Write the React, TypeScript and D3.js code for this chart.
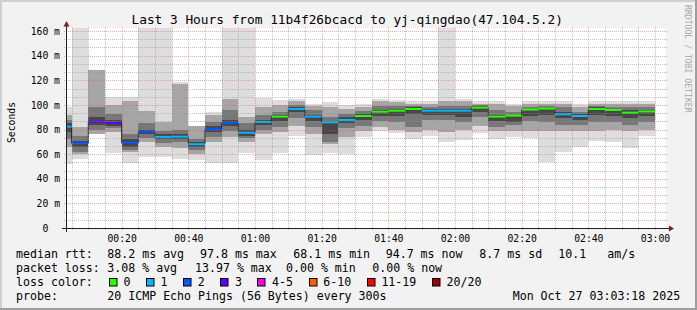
import React from "react";
import * as d3 from "d3";

// ---------- data ----------
const title = "Last 3 Hours from 11b4f26bcacd to yj-qingdao(47.104.5.2)";
const startTime = new Date(2025, 9, 27, 0, 3, 18);
const endTime = new Date(2025, 9, 27, 3, 3, 18);
const dataEnd = new Date(2025, 9, 27, 3, 0, 0);
const stepMinutes = 5;

// median RTT per 5-minute step (ms)
const median = [82.3, 69, 86.4, 85.3, 69.2, 78.2, 74, 74.2, 68.1, 80.4, 85.3, 77.4, 86.2, 90.5, 96.7, 90.5, 85.9, 87.8, 91, 94.5, 95.3, 96.7, 95.3, 95.3, 95.3, 97.8, 90.5, 91.3, 96.2, 97, 92.4, 91, 96.7, 95.9, 93.7, 94.7];
// lost pings per step (of 20)
const loss = [1, 2, 3, 3, 2, 2, 1, 1, 1, 2, 2, 1, 1, 0, 1, 1, 1, 1, 0, 0, 0, 0, 1, 1, 1, 0, 0, 0, 0, 0, 1, 1, 0, 0, 0, 0];
// smoke bands (ms): outer / middle / inner / core
const lightLo = [52, 56, null, 60.6, 52.5, 58, 58, 56, 55, 52.5, 52.5, 61, 55, 61, 75, 59, 61, 60, 74, 79, 77, 72, 75, 69.6, 71.5, 77, 72.6, 74, 73, 53.4, 62, 66, 70.7, 70, 64.7, 75];
const lightHi = [98, 200, null, 106.7, 106.5, 200, 200, 119, 80, 94.5, 200, 200, 106, 104, 105, 101, 102, 100, 101, 104.5, 104, 103, 103.5, 200, 104.5, 103, 103, 101, 103, 103, 103.5, 101, 103, 103, 103.5, 103];
const midLo = [66, 60, 76, 78, 62, 70, 66, 65, 60, 70, 74, 70, 76, 78, 83, 76, 68, 74, 79, 82, 80, 78, 80, 78, 80, 83, 79, 79, 79, 79, 79, 79, 79, 80, 79, 80];
const midHi = [92, 82, 128, 100, 103, 95, 86, 117, 83, 92, 105, 90, 98, 100, 103, 99, 98, 97, 98, 103, 102, 101, 101, 103, 103, 101, 101, 99, 101, 101, 101, 98, 101, 101, 101, 101];
const darkLo = [72, 62, 80, 81, 63, 73, 69, 70, 63, 74, 79, 73, 80, 82, 89, 82, 70, 81, 83, 87, 86, 82, 88, 88, 86, 90, 82, 84, 87, 86, 84, 84, 86, 86, 84, 86];
const darkHi = [88, 75, 98, 93, 76, 85, 79, 80, 72, 86, 96, 85, 92, 94, 100, 96, 90, 93, 95, 99, 99, 99, 98, 99, 99, 100, 96, 94, 98, 99, 98, 94, 99, 98, 98, 98];
const coreLo = [78, 66, 84, 83, 66, 76, 72, 72, 66, 78, 83, 75, 84, 87, 94, 87, 76, 85, 88, 91, 91, 93, 92, 92, 90, 94, 87, 86, 91, 92, 89, 88, 92, 91, 89, 91];
const coreHi = [85, 71, 90, 88, 72, 80, 76, 76, 70, 83, 88, 80, 88, 92, 98, 92, 87, 90, 93, 96, 97, 98, 97, 97, 97, 99, 92, 91, 96, 97, 94, 93, 98, 97, 96, 96];

const lossColors = ["#26ff00", "#00b8ff", "#0059ff", "#5e00ff", "#ff00ea", "#ff5e00", "#ff0000", "#a00000"];
const lossLabels = ["0", "1", "2", "3", "4-5", "6-10", "11-19", "20/20"];

const yMax = 162.5;
const yTicks = [0, 20, 40, 60, 80, 100, 120, 140, 160];
const yTickLabels = ["0  ", "20 m", "40 m", "60 m", "80 m", "100 m", "120 m", "140 m", "160 m"];
const xTickLabels = ["00:20", "00:40", "01:00", "01:20", "01:40", "02:00", "02:20", "02:40", "03:00"];

const rttLabel = "median rtt:";
const rttStats = ["88.2 ms avg", "97.8 ms max", "68.1 ms min", "94.7 ms now", "8.7 ms sd", "10.1", "am/s"];
const lossLabel = "packet loss:";
const lossStats = ["3.08 % avg", "13.97 % max", "0.00 % min", "0.00 % now"];
const colorLabel = "loss color:";
const probeLabel = "probe:";
const probeText = "20 ICMP Echo Pings (56 Bytes) every 300s";
const dateText = "Mon Oct 27 03:03:18 2025";
const watermark = "RRDTOOL / TOBI OETIKER";
const yAxisTitle = "Seconds";

// ---------- layout ----------
const W = 697, H = 310;
const X0 = 66, XS = 600, Y0 = 228, YS = 200;
const MONO = "'DejaVu Sans Mono', monospace";
const CW = 6.98; // legend char width

export default function App() {
  const x = d3.scaleTime().domain([startTime, endTime]).range([X0, X0 + XS]);
  const y = d3.scaleLinear().domain([0, yMax]).range([Y0, Y0 - YS]);

  const bounds = [startTime, ...d3.timeMinute.every(stepMinutes)!.range(startTime, dataEnd), dataEnd];
  const bars = median.map((m, i) => ({ i, t0: bounds[i], t1: bounds[i + 1], m, loss: loss[i] }));

  const band = (lo: (number | null)[], hi: (number | null)[], fill: string, key: string) =>
    bars.map((b) => {
      const l = lo[b.i], h = hi[b.i];
      if (l == null || h == null) return null;
      const x0 = x(b.t0), x1 = x(b.t1);
      return <rect key={key + b.i} x={x0} width={x1 - x0} y={y(h)} height={y(l) - y(h)} fill={fill} shapeRendering="crispEdges" />;
    });

  const stepPts: [number, number][] = bars.map((b) => [x(b.t0), y(b.m)]);
  stepPts.push([x(dataEnd), y(median[median.length - 1])]);
  const stepPath = d3.line().curve(d3.curveStepAfter)(stepPts) || "";

  // grid
  const minorX = d3.timeMinute.every(5)!.range(startTime, endTime).filter((t) => t.getMinutes() % 20 !== 0);
  const majorX = d3.timeMinute.every(20)!.range(startTime, endTime);
  const minorY: number[] = [];
  for (let k = 1; (k * 20) / 3 <= yMax; k++) if (k % 3 !== 0) minorY.push((k * 20) / 3);
  const majorY = yTicks.filter((v) => v > 0);
  const gridC = "rgba(143,143,143,0.55)";
  const mgridC = "rgba(222,79,79,0.45)";
  const dash = "1,1";

  // legend boxes
  const boxX: number[] = [];
  let bx = 108.7;
  lossLabels.forEach((lab) => {
    boxX.push(bx);
    bx = bx + 14.7 + lab.length * CW + 15.5;
  });

  const rttX = [107.3, 200, 293.3, 385.7, 479.3, 558.3, 607.3];
  const lossX = [107.3, 195, 286, 372.3];

  return (
    <svg width={W} height={H} style={{ position: "absolute", left: 0, top: 0 }} xmlns="http://www.w3.org/2000/svg">
      <defs>
        <clipPath id="plot">
          <rect x={X0} y={Y0 - YS} width={XS} height={YS} />
        </clipPath>
      </defs>
      <rect x={0} y={0} width={W} height={H} fill="#f2f2f2" />
      <rect x={0} y={0} width={W} height={2} fill="#cfcfcf" />
      <rect x={0} y={0} width={2} height={H} fill="#cfcfcf" />
      <rect x={0} y={H - 2} width={W} height={2} fill="#9e9e9e" />
      <rect x={W - 2} y={0} width={2} height={H} fill="#9e9e9e" />

      <rect x={X0} y={Y0 - YS} width={XS} height={YS} fill="#ffffff" />

      <g clipPath="url(#plot)">
        {band(lightLo, lightHi, "#dddddd", "l")}
        {band(midLo, midHi, "#a6a6a6", "m")}
        {band(darkLo, darkHi, "#777777", "d")}
        {band(coreLo, coreHi, "#474747", "c")}
        <path d={stepPath} fill="none" stroke="#202020" strokeWidth={1} />
        {bars.map((b) => (
          <line key={"md" + b.i} x1={x(b.t0)} x2={x(b.t1)} y1={y(b.m)} y2={y(b.m)} stroke={lossColors[b.loss]} strokeWidth={2} />
        ))}
      </g>

      {/* grid */}
      <g fill="none" strokeWidth={1} shapeRendering="crispEdges">
        {minorX.map((t, i) => (
          <line key={"gx" + i} x1={Math.round(x(t)) + 0.5} x2={Math.round(x(t)) + 0.5} y1={Y0 + 2} y2={Y0 - YS - 2} stroke={gridC} strokeDasharray={dash} />
        ))}
        {minorY.map((v, i) => (
          <line key={"gy" + i} x1={X0 - 2} x2={X0 + XS + 2} y1={Math.round(y(v)) + 0.5} y2={Math.round(y(v)) + 0.5} stroke={gridC} strokeDasharray={dash} />
        ))}
        {majorX.map((t, i) => (
          <line key={"mx" + i} x1={Math.round(x(t)) + 0.5} x2={Math.round(x(t)) + 0.5} y1={Y0 + 2} y2={Y0 - YS - 2} stroke={mgridC} strokeDasharray={dash} />
        ))}
        {majorY.map((v, i) => (
          <line key={"my" + i} x1={X0 - 2} x2={X0 + XS + 2} y1={Math.round(y(v)) + 0.5} y2={Math.round(y(v)) + 0.5} stroke={mgridC} strokeDasharray={dash} />
        ))}
      </g>

      {/* axes */}
      <line x1={X0 - 4} x2={X0 + XS + 4} y1={Y0 + 0.5} y2={Y0 + 0.5} stroke="#1f1f1f" strokeWidth={1} />
      <line x1={X0 + 0.5} x2={X0 + 0.5} y1={Y0 + 4} y2={Y0 - YS - 4} stroke="#1f1f1f" strokeWidth={1} />
      <path d={`M${X0 + XS + 3},${Y0 - 2.5}L${X0 + XS + 8},${Y0 + 0.5}L${X0 + XS + 3},${Y0 + 3.5}Z`} fill="#7f1f1f" />
      <path d={`M${X0 - 2.5},${Y0 - YS - 1.5}L${X0 + 0.5},${Y0 - YS - 7}L${X0 + 3.5},${Y0 - YS - 1.5}Z`} fill="#7f1f1f" />

      {/* tick labels */}
      <g fontFamily={MONO} fontSize={9.75} fill="#000">
        {yTicks.map((v, i) => (
          <text key={"yl" + i} x={60} y={y(v) + 3.6} textAnchor="end" xmlSpace="preserve" style={{ whiteSpace: "pre" }}>
            {yTickLabels[i]}
          </text>
        ))}
        {majorX.map((t, i) => (
          <text key={"xl" + i} x={x(t) + 0.5} y={242} textAnchor="middle">
            {xTickLabels[i]}
          </text>
        ))}
        <text transform={`translate(15,122.5) rotate(-90)`} textAnchor="middle">
          {yAxisTitle}
        </text>
      </g>

      {/* title */}
      <text x={347.2} y={23.5} textAnchor="middle" fontFamily={MONO} fontSize={12.8} fill="#000">
        {title}
      </text>

      {/* watermark */}
      <text transform="translate(684.5,5) rotate(90)" fontFamily={MONO} fontSize={8.15} fill="#a8a8a8">
        {watermark}
      </text>

      {/* legend */}
      <g fontFamily={MONO} fontSize={11.6} fill="#000">
        <text x={16} y={258}>{rttLabel}</text>
        {rttStats.map((s, i) => (
          <text key={"rs" + i} x={rttX[i]} y={258}>{s}</text>
        ))}
        <text x={16} y={272}>{lossLabel}</text>
        {lossStats.map((s, i) => (
          <text key={"ls" + i} x={lossX[i]} y={272}>{s}</text>
        ))}
        <text x={16} y={286}>{colorLabel}</text>
        {lossLabels.map((lab, i) => (
          <g key={"lb" + i}>
            <rect x={Math.round(boxX[i]) + 0.5} y={278.5} width={7.5} height={7.5} fill={lossColors[i]} stroke="#000" strokeWidth={1} />
            <text x={boxX[i] + 14.7} y={286}>{lab}</text>
          </g>
        ))}
        <text x={16} y={300}>{probeLabel}</text>
        <text x={107.3} y={300}>{probeText}</text>
        <text x={512.7} y={300}>{dateText}</text>
      </g>
    </svg>
  );
}
